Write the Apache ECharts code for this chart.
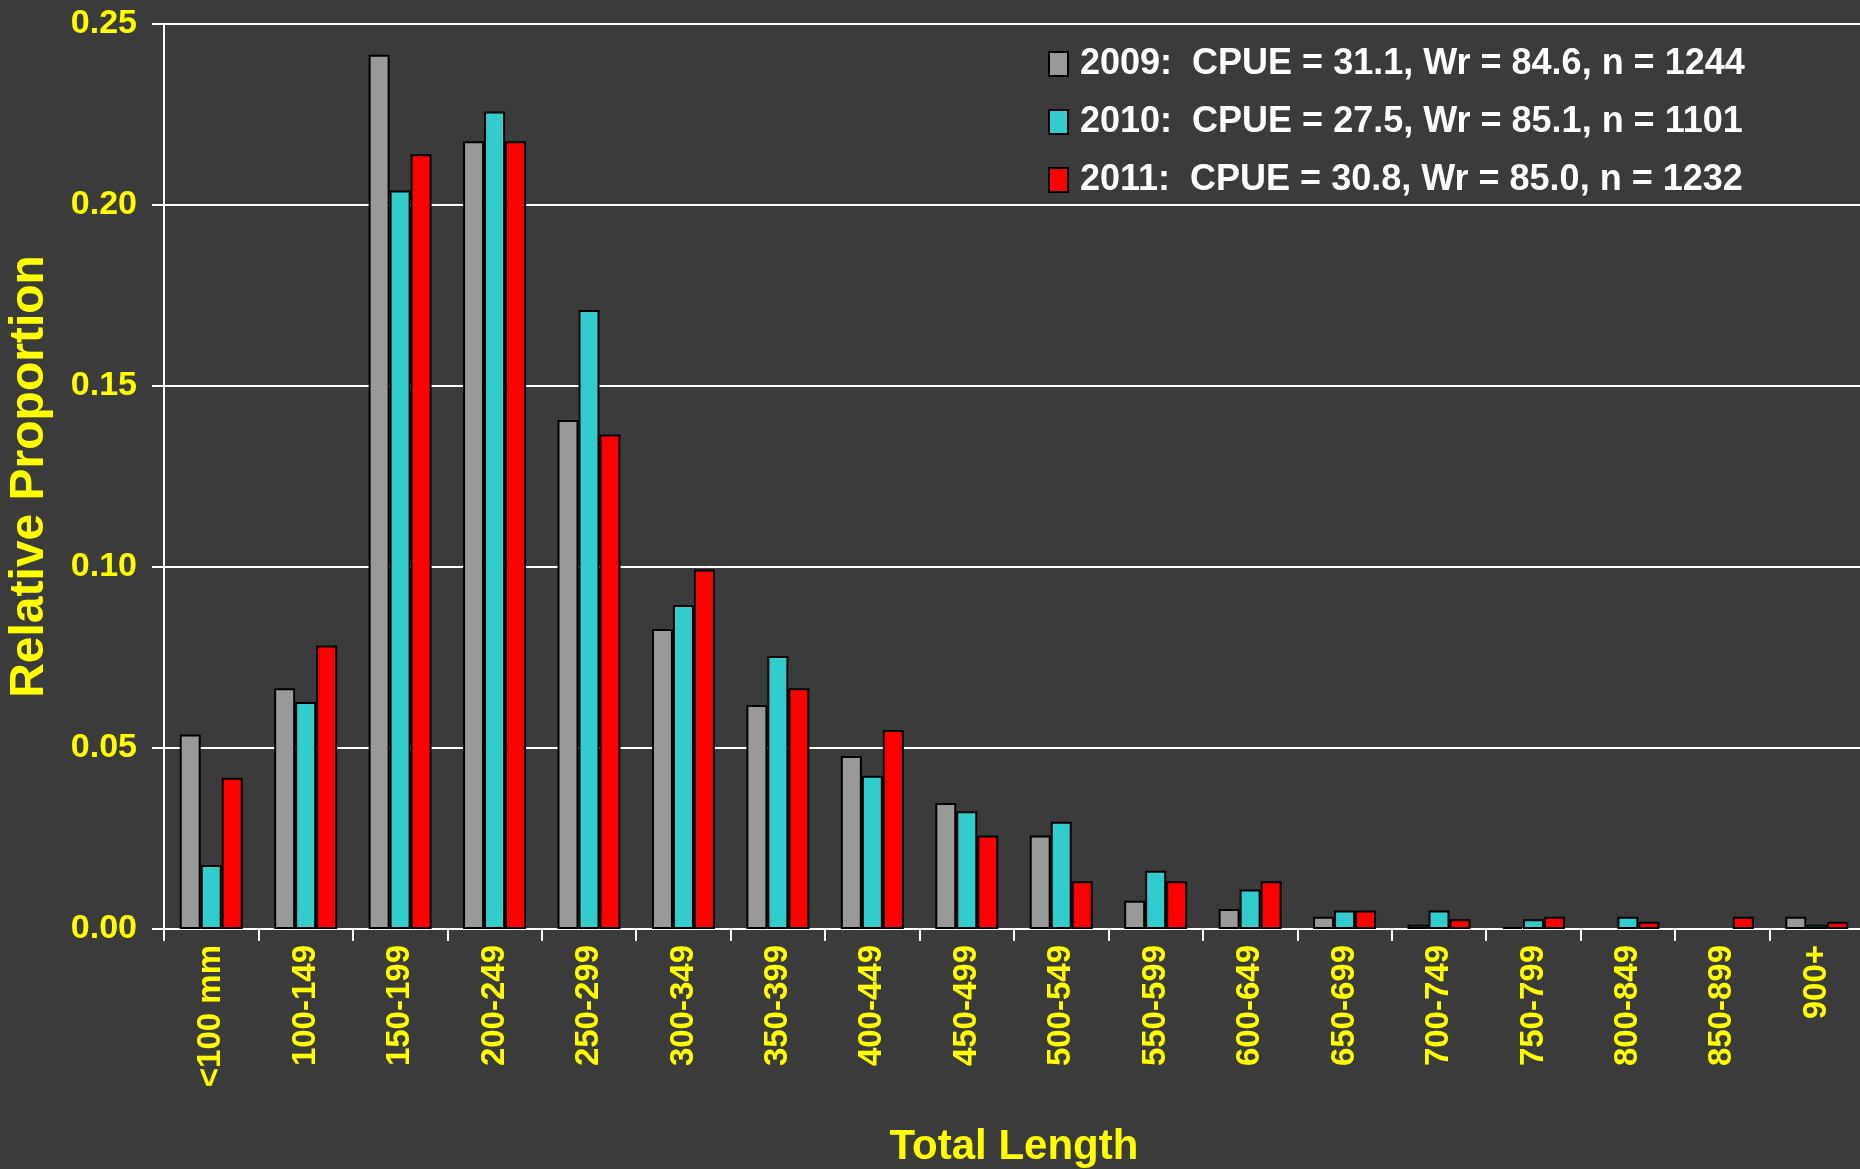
<!DOCTYPE html>
<html>
<head>
<meta charset="utf-8">
<script src="https://cdn.jsdelivr.net/npm/echarts@6/dist/echarts.min.js"></script>
<style>
  html, body { margin: 0; padding: 0; background: #3b3b3b; }
  #chart { width: 1860px; height: 1169px; }
</style>
</head>
<body>
<div id="chart"></div>
<script>
var categories = ['<100 mm', '100-149', '150-199', '200-249', '250-299', '300-349', '350-399',
    '400-449', '450-499', '500-549', '550-599', '600-649', '650-699', '700-749', '750-799',
    '800-849', '850-899', '900+'];
var seriesNames = ['2009:  CPUE = 31.1, Wr = 84.6, n = 1244',
    '2010:  CPUE = 27.5, Wr = 85.1, n = 1101',
    '2011:  CPUE = 30.8, Wr = 85.0, n = 1232'];
var values2009 = [0.0537, 0.0665, 0.2415, 0.2176, 0.1406, 0.0829, 0.0619, 0.0478, 0.0348,
    0.0258, 0.0078, 0.0055, 0.0034, 0.0012, 0.0005, 0, 0, 0.0034];
var values2010 = [0.0177, 0.0627, 0.2040, 0.2258, 0.1710, 0.0895, 0.0754, 0.0423, 0.0325,
    0.0296, 0.0161, 0.0109, 0.0051, 0.0051, 0.0027, 0.0034, 0, 0.0012];
var values2011 = [0.0418, 0.0783, 0.2140, 0.2176, 0.1366, 0.0993, 0.0665, 0.0550, 0.0258,
    0.0132, 0.0132, 0.0132, 0.0051, 0.0027, 0.0034, 0.0020, 0.0034, 0.0020];
var colors = ['#999999', '#33cccc', '#ff0000'];
var yTicks = ['0.00', '0.05', '0.10', '0.15', '0.20', '0.25'];

var yellow = '#ffff00';
var font = 'Liberation Sans, Arial, sans-serif';

var myChart = echarts.init(document.getElementById('chart'));

function barSeries(name, data, color) {
    return {
        name: name,
        type: 'bar',
        // empty classes get no bar (otherwise a border line shows at zero)
        data: data.map(function (v) { return v === 0 ? null : v; }),
        barWidth: 21,
        barGap: '0%',
        itemStyle: { color: color, borderColor: '#000', borderWidth: 2 }
    };
}

var option = {
    backgroundColor: '#3b3b3b',
    animation: false,
    grid: { left: 164, top: 24, width: 1700, height: 905, containLabel: false, outerBoundsMode: 'none' },
    legend: {
        orient: 'vertical',
        left: 1048,
        top: 43,
        padding: 0,
        icon: 'rect',
        itemWidth: 19,
        itemHeight: 24,
        itemGap: 16,
        data: seriesNames.map(function (n, i) {
            return { name: n, itemStyle: { color: colors[i], borderColor: '#000', borderWidth: 2 } };
        }),
        textStyle: {
            color: '#ffffff',
            fontFamily: font,
            fontWeight: 'bold',
            fontSize: 36,
            lineHeight: 42,
            padding: [0, 0, 0, 7]
        }
    },
    xAxis: {
        type: 'category',
        data: categories,
        name: 'Total Length',
        nameLocation: 'middle',
        nameGap: 197,
        nameTextStyle: {
            color: yellow,
            fontFamily: font,
            fontWeight: 'bold',
            fontSize: 42
        },
        axisLine: { lineStyle: { color: '#ffffff', width: 2 } },
        axisTick: { show: true, length: 12, lineStyle: { color: '#ffffff', width: 2 } },
        axisLabel: {
            rotate: 90,
            margin: 16,
            color: yellow,
            fontFamily: font,
            fontWeight: 'bold',
            fontSize: 33
        }
    },
    yAxis: {
        type: 'value',
        min: 0,
        max: 0.25,
        interval: 0.05,
        name: 'Relative Proportion',
        nameLocation: 'middle',
        nameRotate: 90,
        nameGap: 110,
        nameTextStyle: {
            color: yellow,
            fontFamily: font,
            fontWeight: 'bold',
            fontSize: 48
        },
        axisLine: { show: true, lineStyle: { color: '#ffffff', width: 2 } },
        axisTick: { show: true, length: 12, lineStyle: { color: '#ffffff', width: 2 } },
        splitLine: { lineStyle: { color: '#ffffff', width: 2 } },
        axisLabel: {
            margin: 27,
            color: yellow,
            fontFamily: font,
            fontWeight: 'bold',
            fontSize: 34,
            formatter: function (v) { return yTicks[Math.round(v / 0.05)]; }
        }
    },
    series: [
        barSeries(seriesNames[0], values2009, colors[0]),
        barSeries(seriesNames[1], values2010, colors[1]),
        barSeries(seriesNames[2], values2011, colors[2])
    ]
};

myChart.setOption(option);
</script>
</body>
</html>
